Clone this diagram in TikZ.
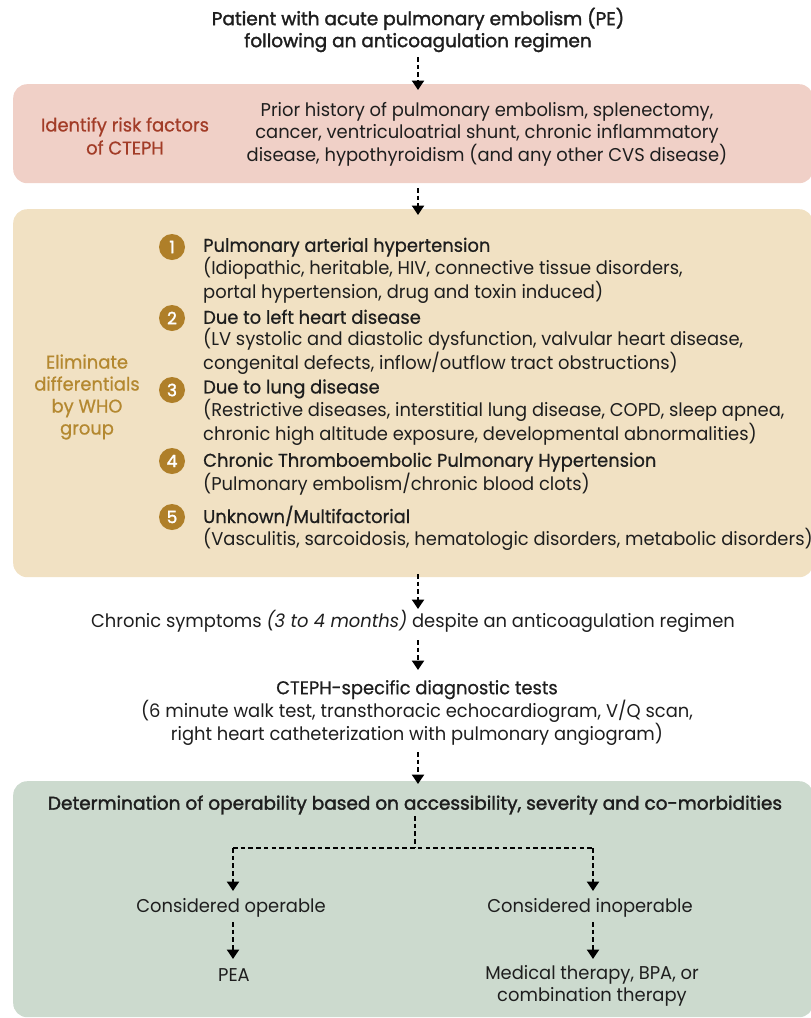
\documentclass[tikz,border=0pt]{standalone}
\usepackage{fontspec}
\setmainfont[FakeStretch=0.968]{Poppins}
\newfontfamily\medfont[FakeStretch=0.968,FakeBold=0.7]{Poppins}
\newfontfamily\semifont[FakeStretch=1.0,FakeBold=1.8]{Poppins}
\usetikzlibrary{arrows.meta,calc}
\definecolor{pinkbox}{HTML}{F0D0C7}
\definecolor{tanbox}{HTML}{F1E1C3}
\definecolor{greenbox}{HTML}{CCDACE}
\definecolor{redlabel}{HTML}{A23C27}
\definecolor{goldlabel}{HTML}{B48830}
\definecolor{goldcirc}{HTML}{AF7F29}
\definecolor{txt}{HTML}{1E1E1E}
\tikzset{
  panel/.style={rounded corners=14pt, draw=none, anchor=north west, inner sep=0pt},
  txtnode/.style={inner sep=0pt, align=center, text=txt, font=\fontsize{18.5}{22}\selectfont},
  itemnode/.style={inner sep=0pt, align=left, anchor=base west, text=txt, font=\fontsize{18.5}{22}\selectfont},
  numcirc/.style={circle, fill=goldcirc, minimum size=26pt, inner sep=0pt, text=white, font=\semifont\fontsize{17}{17}\selectfont},
  flow/.style={draw=black, line width=2.8pt, dash pattern=on 4.5pt off 3.2pt, -{Triangle[width=12pt,length=9.5pt]}},
  flowline/.style={draw=black, line width=2.8pt, dash pattern=on 4.5pt off 3.2pt}
}
\begin{document}
\begin{tikzpicture}[x=1pt,y=-1pt]
\useasboundingbox (0,0) rectangle (811,1018);
% title
\node[txtnode, font=\semifont\fontsize{18.5}{22}\selectfont] (title) at (418,30) {Patient with acute pulmonary embolism (PE)\\following an anticoagulation regimen};
% box 1
\node[panel, fill=pinkbox, minimum width=800pt, minimum height=99pt] (box1) at (13,84) {};
\node[txtnode, text=redlabel, font=\medfont\fontsize{18.5}{23}\selectfont] (risk) at (125,136) {Identify risk factors\\of CTEPH};
\node[txtnode] (riskf) at (487,134) {Prior history of pulmonary embolism, splenectomy,\\cancer, ventriculoatrial shunt, chronic inflammatory\\disease, hypothyroidism (and any other CVS disease)};
% box 2
\node[panel, fill=tanbox, minimum width=800pt, minimum height=368pt] (box2) at (13,209) {};
\node[txtnode, text=goldlabel, font=\medfont\fontsize{18.5}{22}\selectfont] (elim) at (87,397) {Eliminate\\differentials\\by WHO\\group};
\node[numcirc] (c1) at (172,247) {1};
\node[numcirc] (c2) at (172,318) {2};
\node[numcirc] (c3) at (172,390) {3};
\node[numcirc] (c4) at (172,461) {4};
\node[numcirc] (c5) at (172,517) {5};
\node[itemnode] (i1) at (203,298) {{\medfont Pulmonary arterial hypertension}\\(Idiopathic, heritable, HIV, connective tissue disorders,\\portal hypertension, drug and toxin induced)};
\node[itemnode] (i2) at (203,369) {{\medfont Due to left heart disease}\\(LV systolic and diastolic dysfunction, valvular heart disease,\\congenital defects, inflow/outflow tract obstructions)};
\node[itemnode] (i3) at (203,440) {{\medfont Due to lung disease}\\(Restrictive diseases, interstitial lung disease, COPD, sleep apnea,\\chronic high altitude exposure, developmental abnormalities)};
\node[itemnode] (i4) at (203,490) {{\medfont Chronic Thromboembolic Pulmonary Hypertension}\\(Pulmonary embolism/chronic blood clots)};
\node[itemnode] (i5) at (203,545) {{\medfont Unknown/Multifactorial}\\(Vasculitis, sarcoidosis, hematologic disorders, metabolic disorders)};
% chronic
\node[txtnode] (chronic) at (413,621) {Chronic symptoms \textit{(3 to 4 months)} despite an anticoagulation regimen};
% tests
\node[txtnode] (tests) at (417,713) {{\medfont CTEPH-specific diagnostic tests}\\(6 minute walk test, transthoracic echocardiogram, V/Q scan,\\right heart catheterization with pulmonary angiogram)};
% box 3
\node[panel, fill=greenbox, minimum width=800pt, minimum height=236pt] (box3) at (13,781) {};
\node[txtnode, font=\semifont\fontsize{18.5}{22}\selectfont] (det) at (415,805) {Determination of operability based on accessibility, severity and co-morbidities};
\node[txtnode] (oper) at (231,908) {Considered operable};
\node[txtnode] (inoper) at (590,908) {Considered inoperable};
\node[txtnode] (pea) at (234,975) {PEA};
\node[txtnode] (med) at (592,986) {Medical therapy, BPA, or\\combination therapy};
% connector end points
\coordinate (a1s) at (418,57);   \coordinate (a1e) at (418,90);
\coordinate (a2s) at (418,188);  \coordinate (a2e) at (418,215);
\coordinate (a3s) at (418,574);  \coordinate (a3e) at (418,609);
\coordinate (a4s) at (418,640);  \coordinate (a4e) at (418,670);
\coordinate (a5s) at (418,752);  \coordinate (a5e) at (418,784);
\coordinate (ds)  at (415,816);
\coordinate (split) at (415,848);
\coordinate (lt) at (233,848);
\coordinate (rt) at (593,848);
\coordinate (lte) at (233,891);  \coordinate (rte) at (593,891);
\coordinate (ls) at (233,922);   \coordinate (le) at (233,959);
\coordinate (rs) at (593,922);   \coordinate (re) at (593,959);
% connectors
\draw[flow] (a1s) -- (a1e);
\draw[flow] (a2s) -- (a2e);
\draw[flow] (a3s) -- (a3e);
\draw[flow] (a4s) -- (a4e);
\draw[flow] (a5s) -- (a5e);
\draw[flowline] (ds) -- (split);
\draw[flowline] (lt) -- (rt);
\draw[flow] (lt) -- (lte);
\draw[flow] (rt) -- (rte);
\draw[flow] (ls) -- (le);
\draw[flow] (rs) -- (re);
\end{tikzpicture}
\end{document}
